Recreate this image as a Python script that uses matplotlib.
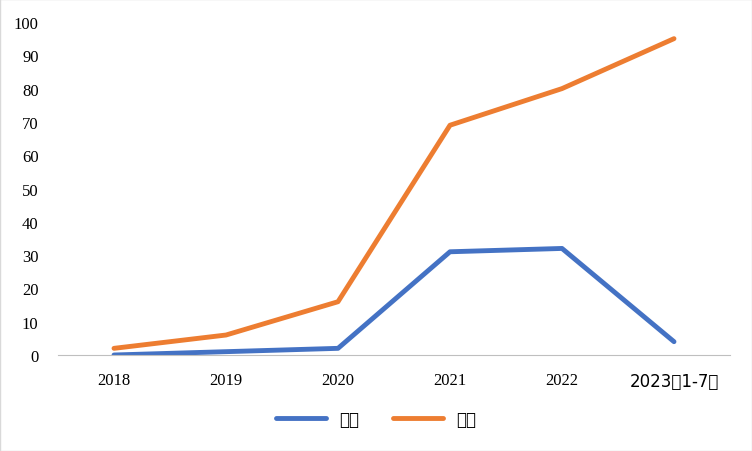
import matplotlib
matplotlib.use("Agg")
import matplotlib.pyplot as plt
from matplotlib import font_manager as fm

cjk_name = "Noto Sans CJK SC"
for f in fm.fontManager.ttflist:
    if "CJK" in f.name and "SC" in f.name:
        cjk_name = f.name
        break
plt.rcParams["font.family"] = ["Liberation Serif", cjk_name]
cjk = fm.FontProperties(family=cjk_name, size=12)

categories = ["2018", "2019", "2020", "2021", "2022", "2023年1-7月"]
china = [0, 1, 2, 31, 32, 4]
world = [2, 6, 16, 69, 80, 95]

fig = plt.figure(figsize=(7.52, 4.52), dpi=100)
ax = fig.add_axes([58/752, 1-356/452, 672/752, 333/452])
x = range(len(categories))
ax.plot(x, china, color="#4472C4", lw=3.5, label="中国", solid_capstyle="round")
ax.plot(x, world, color="#ED7D31", lw=3.5, label="全球", solid_capstyle="round")
ax.set_xlim(-0.5, 5.5)
ax.set_ylim(0, 100)
ax.set_yticks(range(0, 101, 10))
ax.set_xticks(list(x))
labels = ax.set_xticklabels(categories)
labels[-1].set_fontproperties(fm.FontProperties(family=cjk_name, size=11))
for s in ["top", "right", "left"]:
    ax.spines[s].set_visible(False)
ax.spines["bottom"].set_color("#BFBFBF")
ax.tick_params(length=0, labelsize=12, colors="black")
ax.tick_params(axis="x", pad=12)
ax.tick_params(axis="y", pad=14)
fig.legend(loc="center", bbox_to_anchor=(0.5, 1-420/452), ncol=2, frameon=False,
           prop=cjk, handlelength=3, columnspacing=2)
fig.patches.append(plt.Rectangle((0, 0), 1, 1, transform=fig.transFigure,
                                 fill=False, edgecolor="#D9D9D9", lw=1))
fig.savefig("out.png", dpi=100)
